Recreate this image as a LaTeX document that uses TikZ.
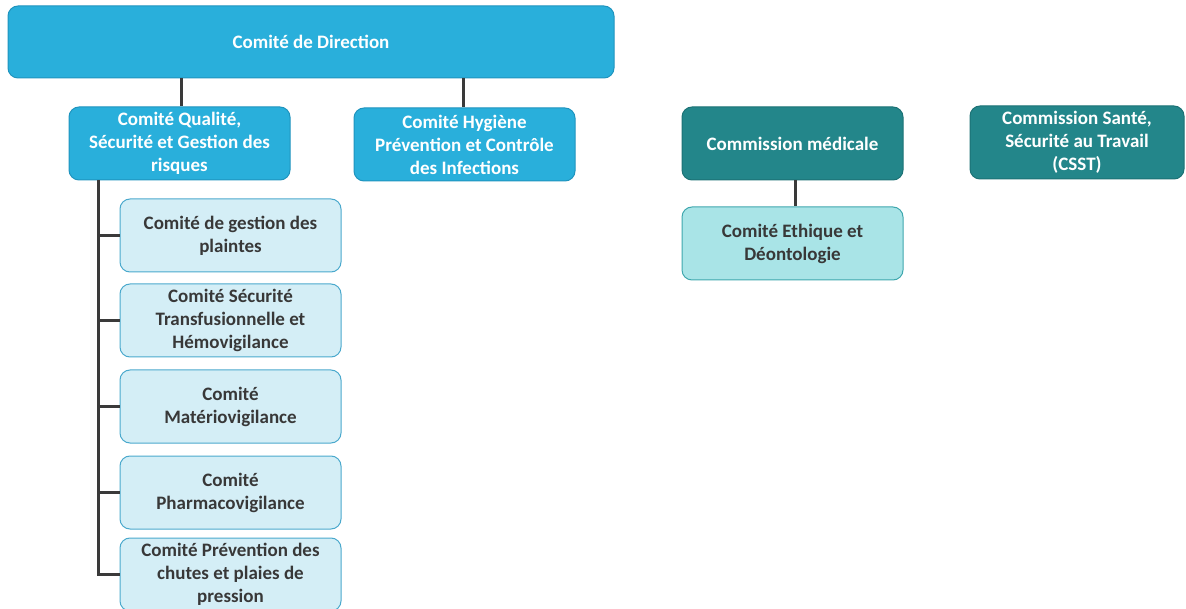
\documentclass[tikz,border=0pt]{standalone}
\usepackage{fontspec}
\setmainfont{Carlito}
\usetikzlibrary{calc}
\definecolor{topblue}{HTML}{29AFDB}
\definecolor{topborder}{HTML}{1F94BE}
\definecolor{lightfill}{HTML}{D4EEF6}
\definecolor{lightborder}{HTML}{4BA9CD}
\definecolor{tealfill}{HTML}{23868A}
\definecolor{tealborder}{HTML}{1C7275}
\definecolor{ethfill}{HTML}{A9E4E7}
\definecolor{ethborder}{HTML}{3FA7AE}
\definecolor{txtdark}{HTML}{383838}
\definecolor{linec}{HTML}{3A3A3A}
\tikzset{
  boxbase/.style={rounded corners=10pt, line width=1pt, align=center, inner sep=0pt,
    font=\fontsize{19}{23}\selectfont\bfseries},
  bluebox/.style={boxbase, fill=topblue, draw=topborder, text=white},
  lightbox/.style={boxbase, fill=lightfill, draw=lightborder, text=txtdark,
    minimum width=221pt, minimum height=73pt},
  tealbox/.style={boxbase, fill=tealfill, draw=tealborder, text=white},
  ethbox/.style={boxbase, fill=ethfill, draw=ethborder, text=txtdark},
  conn/.style={draw=linec, line width=3pt}
}
\begin{document}
\begin{tikzpicture}[x=1pt,y=-1pt]
\useasboundingbox (0,0) rectangle (1186,609);
\node[bluebox, minimum width=606pt, minimum height=72pt] (dir) at (311,42) {Comité de Direction};
\node[bluebox, minimum width=221pt, minimum height=73pt] (qual) at (179.5,143.5) {Comité Qualité,\\Sécurité et Gestion des\\risques};
\node[bluebox, minimum width=221pt, minimum height=73pt] (hyg) at (464.5,144.5) {Comité Hygiène\\Prévention et Contrôle\\des Infections};
\node[tealbox, minimum width=221pt, minimum height=73pt] (med) at (792.5,143.5) {Commission médicale};
\node[tealbox, minimum width=214pt, minimum height=73pt] (csst) at (1077,142.5) {Commission Santé,\\Sécurité au Travail\\(CSST)};
\node[ethbox, minimum width=221pt, minimum height=73pt] (eth) at (792.5,243.5) {Comité Ethique et\\Déontologie};
\node[lightbox] (s1) at (230.5,235.5) {Comité de gestion des\\plaintes};
\node[lightbox] (s2) at (230.5,320.5) {Comité Sécurité\\Transfusionnelle et\\Hémovigilance};
\node[lightbox] (s3) at (230.5,406.5) {Comité\\Matériovigilance};
\node[lightbox] (s4) at (230.5,492.5) {Comité\\Pharmacovigilance};
\node[lightbox] (s5) at (230.5,574.5) {Comité Prévention des\\chutes et plaies de\\pression};
\coordinate (trunk) at (98,0);
% connectors
\draw[conn] (dir.south -| 181,0) -- (qual.north -| 181,0);
\draw[conn] (dir.south -| 463,0) -- (hyg.north -| 463,0);
\draw[conn] (med.south -| 795,0) -- (eth.north -| 795,0);
\draw[conn] (qual.south -| trunk) -- (trunk |- s5) -- (s5.west);
\foreach \s in {s1,s2,s3,s4}{
  \draw[conn] (trunk |- \s) -- (\s.west);
}
\end{tikzpicture}
\end{document}
